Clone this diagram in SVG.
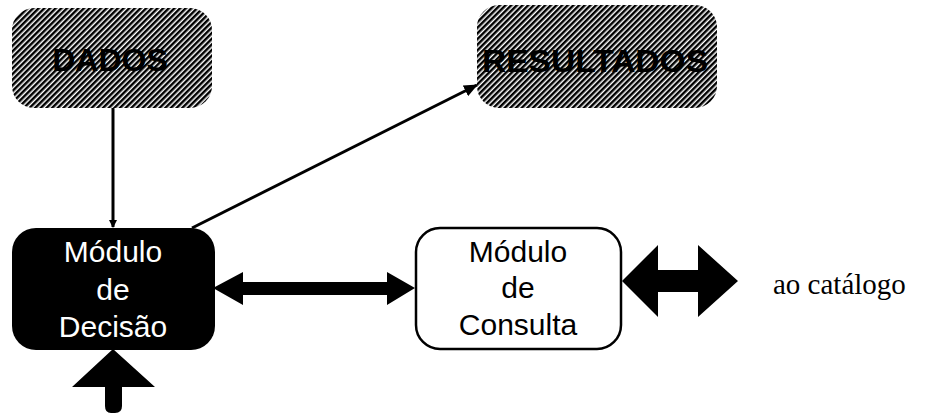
<svg xmlns="http://www.w3.org/2000/svg" width="940" height="418" viewBox="0 0 940 418">
<style>
.hatch{fill:url(#h)}
.title{font-family:"Liberation Sans",Arial,sans-serif;font-weight:bold;font-size:32px;fill:#000;text-anchor:middle}
.mod{font-family:"Liberation Sans",Arial,sans-serif;font-size:30px;text-anchor:middle}
.cat{font-family:"Liberation Serif","Times New Roman",serif;font-size:29px;fill:#000}
.ln{stroke:#000;stroke-width:3;fill:none}
</style>
<defs>
<pattern id="h" width="4" height="4" patternUnits="userSpaceOnUse" patternTransform="rotate(45)">
<rect width="4" height="4" fill="#fff"/>
<rect x="0" y="0" width="2.5" height="4" fill="#000"/>
</pattern>
<marker id="ah" markerWidth="8" markerHeight="8" refX="7" refY="4" orient="auto" markerUnits="userSpaceOnUse" viewBox="0 0 8 8">
<path d="M0,0 L8,4 L0,8 Z" fill="#000"/>
</marker>
<marker id="ah2" markerWidth="14" markerHeight="12" refX="13" refY="6" orient="auto" markerUnits="userSpaceOnUse" viewBox="0 0 14 12">
<path d="M0,0 L14,6 L0,12 Z" fill="#000"/>
</marker>
</defs>
<rect width="940" height="418" fill="#fff"/>
<g id="connectors">
<line class="ln" x1="113" y1="108" x2="113" y2="227" marker-end="url(#ah)" stroke-width="2.5"/>
<line class="ln" x1="192" y1="228" x2="477" y2="85" marker-end="url(#ah2)"/>
<path d="M213,288 L243,272 L243,282 L387,282 L387,272 L415,288 L387,305 L387,295 L243,295 L243,305 Z" fill="#000"/>
<path d="M622,281 L658,245 L658,270 L698,270 L698,245 L738,281 L698,317 L698,292 L658,292 L658,317 Z" fill="#000"/>
<path d="M113,349 L155,387 L122,387 L122,406 Q122,413 115,413 L111,413 Q105,413 105,406 L105,387 L72,387 Z" fill="#000"/>
</g>
<g id="dados">
<rect class="hatch" x="12" y="8" width="200" height="100" rx="22"/>
<text class="title" x="110" y="71">DADOS</text>
</g>
<g id="resultados">
<rect class="hatch" x="477" y="5" width="240" height="103" rx="22"/>
<text class="title" x="595" y="72" textLength="226" lengthAdjust="spacingAndGlyphs">RESULTADOS</text>
</g>
<g id="decisao">
<rect x="12" y="228" width="203" height="122" rx="24" fill="#000"/>
<text class="mod" x="113" y="262" fill="#fff">Módulo</text>
<text class="mod" x="113" y="300" fill="#fff">de</text>
<text class="mod" x="113" y="337" fill="#fff">Decisão</text>
</g>
<g id="consulta">
<rect x="416" y="228" width="205" height="121" rx="24" fill="#fff" stroke="#000" stroke-width="2.5"/>
<text class="mod" x="518" y="262" fill="#000">Módulo</text>
<text class="mod" x="518" y="298" fill="#000">de</text>
<text class="mod" x="518" y="335" fill="#000">Consulta</text>
</g>
<g id="catalogo">
<text class="cat" x="773" y="294">ao catálogo</text>
</g>
</svg>
